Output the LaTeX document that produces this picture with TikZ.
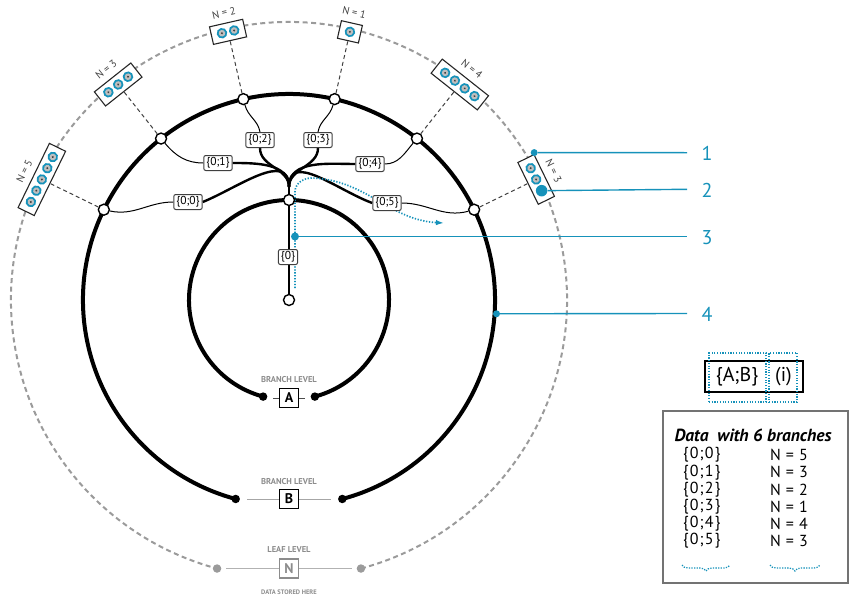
\documentclass[tikz,border=0pt]{standalone}
\usepackage{fontspec}
\setmainfont{PT Sans}
\usetikzlibrary{arrows.meta,decorations.pathreplacing,backgrounds}
\definecolor{tealc}{RGB}{22,146,186}
\definecolor{dgray}{RGB}{155,155,155}
\definecolor{tgray}{RGB}{140,140,140}
\newcommand\nbox[3]{%
  \begin{scope}[shift={(#1:275)},rotate=#1-90,transform shape]
    \node[nbx,minimum width={#3*12.5+9}] (#2) at (0,0) {};
    \foreach \i in {1,...,#3} {
      \fill[tealc] ({(\i-(#3+1)/2)*12.5},0) circle (5.3);
      \fill[black!25] ({(\i-(#3+1)/2)*12.5},0) circle (3.3);
      \fill[black!75] ({(\i-(#3+1)/2)*12.5},0) circle (1.1);
    }
    \node[nlab] (#2t) at (0,19.5) {N = #3};
  \end{scope}}
\begin{document}
\begin{tikzpicture}[x=1pt,y=1pt,
  ring/.style={line width=4pt},
  opn/.style={circle,draw=black,fill=white,line width=1.4pt,minimum size=11pt,inner sep=0pt},
  endd/.style={circle,fill=black,minimum size=8.5pt,inner sep=0pt},
  endg/.style={circle,fill=dgray,minimum size=8.5pt,inner sep=0pt},
  lab/.style={draw=black!75,fill=white,rounded corners=2pt,line width=1pt,font=\fontsize{11.5}{13}\selectfont,inner xsep=2.5pt,inner ysep=1.5pt,minimum height=15pt},
  thinln/.style={line width=1pt},
  thickln/.style={line width=2.4pt},
  rad/.style={dash pattern=on 4pt off 3pt,line width=1pt,black!75},
  nbx/.style={draw=black!85,fill=white,line width=1.1pt,minimum height=18pt,inner sep=0pt},
  nlab/.style={font=\fontsize{10.5}{11}\selectfont,text=black!75,inner sep=0pt},
  lvl/.style={font=\fontsize{8.5}{9}\selectfont\bfseries,text=tgray},
  lbox/.style={draw=black,line width=1.2pt,minimum size=19pt,inner sep=0pt,font=\fontsize{14}{15}\selectfont\bfseries},
  call/.style={tealc,line width=1.4pt},
  cnum/.style={font=\fontsize{20}{21}\selectfont,text=tealc},
  tbl/.style={font=\fontsize{16}{17}\selectfont\addfontfeature{LetterSpace=7},anchor=west,inner sep=0pt},
  brc/.style={tealc,line width=1.2pt,dash pattern=on 1.3pt off 1.3pt,decorate,decoration={brace,mirror,amplitude=6pt,aspect=0.5}},
]
\useasboundingbox (-289,-298) rectangle (570,300);

% --- nodes on the middle ring
\foreach \a/\n in {154/0,128.4/1,102.8/2,77.2/3,51.6/4,26/5}
  \node[opn] (m\n) at (\a:206) {};
\node[opn] (top) at (0,100) {};
\node[opn] (bot) at (0,0) {};
\coordinate (J) at (0,113);

% --- ring ends
\node[endd] (ia1) at (255:100) {};
\node[endd] (ia2) at (285:100) {};
\node[endd] (mb1) at (255:206) {};
\node[endd] (mb2) at (285:206) {};
\node[endg] (on1) at (255:278) {};
\node[endg] (on2) at (285:278) {};

% --- labels
\node[lab] (l0) at (-101,98) {\{0;0\}};
\node[lab] (l1) at (-71,137) {\{0;1\}};
\node[lab] (l2) at (-29,160) {\{0;2\}};
\node[lab] (l3) at (29,160) {\{0;3\}};
\node[lab] (l4) at (81,136) {\{0;4\}};
\node[lab] (l5) at (98,97) {\{0;5\}};
\node[lab] (lz) at (-1,43) {\{0\}};

% --- leaf boxes
\nbox{154}{b0}{5}
\nbox{128.4}{b1}{3}
\nbox{102.8}{b2}{2}
\nbox{77.2}{b3}{1}
\nbox{51.6}{b4}{4}
\nbox{26}{b5}{3}
\begin{scope}[shift={(26:275)},rotate=-64]
  \node[circle,fill=tealc,minimum size=11.5pt,inner sep=0pt] (c2) at (12.5,0) {};
  \node[circle,fill=tealc,minimum size=7pt,inner sep=0pt] (c1) at (-25,10) {};
\end{scope}

% --- level markers
\node[lvl] (tA) at (0,-80) {BRANCH LEVEL};
\node[lbox] (A) at (0,-98) {A};
\node[lvl] (tB) at (0,-182) {BRANCH LEVEL};
\node[lbox] (B) at (0,-199) {B};
\node[lvl] (tN) at (0,-250) {LEAF LEVEL};
\node[lbox,draw=tgray,text=tgray] (N) at (0,-268.5) {N};
\node[lvl,font=\fontsize{6.5}{7}\selectfont\bfseries] (tD) at (0,-292) {DATA STORED HERE};
\coordinate (al) at (-16,-98); \coordinate (ar) at (16,-98);
\coordinate (bl) at (-42,-199); \coordinate (br) at (42,-199);
\coordinate (nl) at (-63,-268.5); \coordinate (nr) at (63,-268.5);

\begin{pgfonlayer}{background}
  \draw[dgray,line width=2pt,dash pattern=on 5pt off 3.5pt] (-75:278) arc[start angle=-75,end angle=255,radius=278];
  \draw[ring] (-75:206) arc[start angle=-75,end angle=255,radius=206];
  \draw[ring] (-75:100) arc[start angle=-75,end angle=255,radius=100];
  \foreach \n in {0,...,5} \draw[rad] (m\n) -- (b\n);
  % stem
  \draw[thickln] (bot) -- (J);
  % fan
  \draw[thickln] (l0.east) to[out=22,in=90,looseness=1.1] (J);
  \draw[thickln] (l1.east) to[out=0,in=90] (J);
  \draw[thickln] (l2.south) to[out=-90,in=90] (J);
  \draw[thickln] (l3.south) to[out=-90,in=90] (J);
  \draw[thickln] (l4.west) to[out=180,in=90] (J);
  \draw[thickln] (l5.west) to[out=160,in=90,looseness=1.1] (J);
  % thin
  \draw[thinln] (m0) to[out=-12,in=180] (l0.west);
  \draw[thinln] (m1) to[out=-50,in=180] (l1.west);
  \draw[thinln] (m2) to[out=-75,in=100] (l2.north);
  \draw[thinln] (m3) to[out=-105,in=80] (l3.north);
  \draw[thinln] (m4) to[out=-130,in=0] (l4.east);
  \draw[thinln] (m5) to[out=195,in=0] (l5.east);
  % dotted path
  \coordinate (d0) at (6,12);
  \coordinate (d1) at (6,108);
  \coordinate (dp) at (23,122);
  \coordinate (de) at (155,77);
  \draw[tealc,line width=1.7pt,dash pattern=on 1.3pt off 1.6pt,-{Latex[length=8pt,width=5.5pt]}]
    (d0) -- (d1) to[out=90,in=180] (dp) to[out=-2,in=177] (de);
  % level lines
  \draw[black!70,line width=0.9pt] (A) -- (al) (A) -- (ar);
  \draw[black!35,line width=0.9pt] (B) -- (bl) (B) -- (br);
  \draw[black!30,line width=0.9pt] (N) -- (nl) (N) -- (nr);
\end{pgfonlayer}

% --- callouts
\node[circle,fill=tealc,minimum size=8pt,inner sep=0pt] (c3) at (6,63.5) {};
\node[circle,fill=tealc,minimum size=7pt,inner sep=0pt] (c4) at (-3.8:208) {};
\coordinate (e1) at (398,147.3);
\coordinate (e2) at (398,110.7);
\coordinate (e3) at (398,63.5);
\coordinate (e4) at (398,-13.5);
\draw[call] (c1) -- (e1);
\draw[call] (c2) -- (e2);
\draw[call] (c3) -- (e3);
\draw[call] (c4) -- (e4);
\node[cnum] (n1) at (418,147) {1};
\node[cnum] (n2) at (418,110) {2};
\node[cnum] (n3) at (418,62) {3};
\node[cnum] (n4) at (418,-14) {4};

% --- legend key
\node[draw=black,line width=1.2pt,minimum width=98pt,minimum height=31pt,inner sep=0pt] (key) at (465,-76.5) {};
\node[font=\fontsize{20}{21}\selectfont,inner sep=0pt] (kab) at (448,-76.5) {\{A;B\}};
\node[font=\fontsize{20}{21}\selectfont,inner sep=0pt] (ki) at (494.5,-76.5) {(i)};
\node[draw=tealc,line width=1.1pt,dash pattern=on 1.2pt off 1.5pt,minimum width=57pt,minimum height=49pt,inner sep=0pt] (kab2) at (448.5,-77.5) {};
\node[draw=tealc,line width=1.1pt,dash pattern=on 1.2pt off 1.5pt,minimum width=28pt,minimum height=49pt,inner sep=0pt] (ki2) at (494,-77.5) {};

% --- table
\node[draw=black!55,line width=1.2pt,minimum width=185pt,minimum height=172pt,inner sep=0pt] (tb) at (466.5,-197) {};
\node[font=\fontsize{17.5}{19}\selectfont\bfseries\itshape,inner sep=0pt] (ttl) at (464,-135) {Data\ \ with 6 branches};
\foreach \i/\n in {0/5,1/3,2/2,3/1,4/4,5/3} {
  \node[tbl] (k\i) at (394,{-155-17.2*\i}) {\{0;\i\}};
  \node[tbl] (v\i) at (481,{-155-17.2*\i}) {N\hspace{5pt}=\hspace{5pt}\n};
}
\coordinate (bra1) at (393,-265);
\coordinate (bra2) at (441,-265);
\coordinate (brb1) at (481,-265);
\coordinate (brb2) at (531,-265);
\draw[brc] (bra1) -- (bra2);
\draw[brc] (brb1) -- (brb2);
\end{tikzpicture}
\end{document}
